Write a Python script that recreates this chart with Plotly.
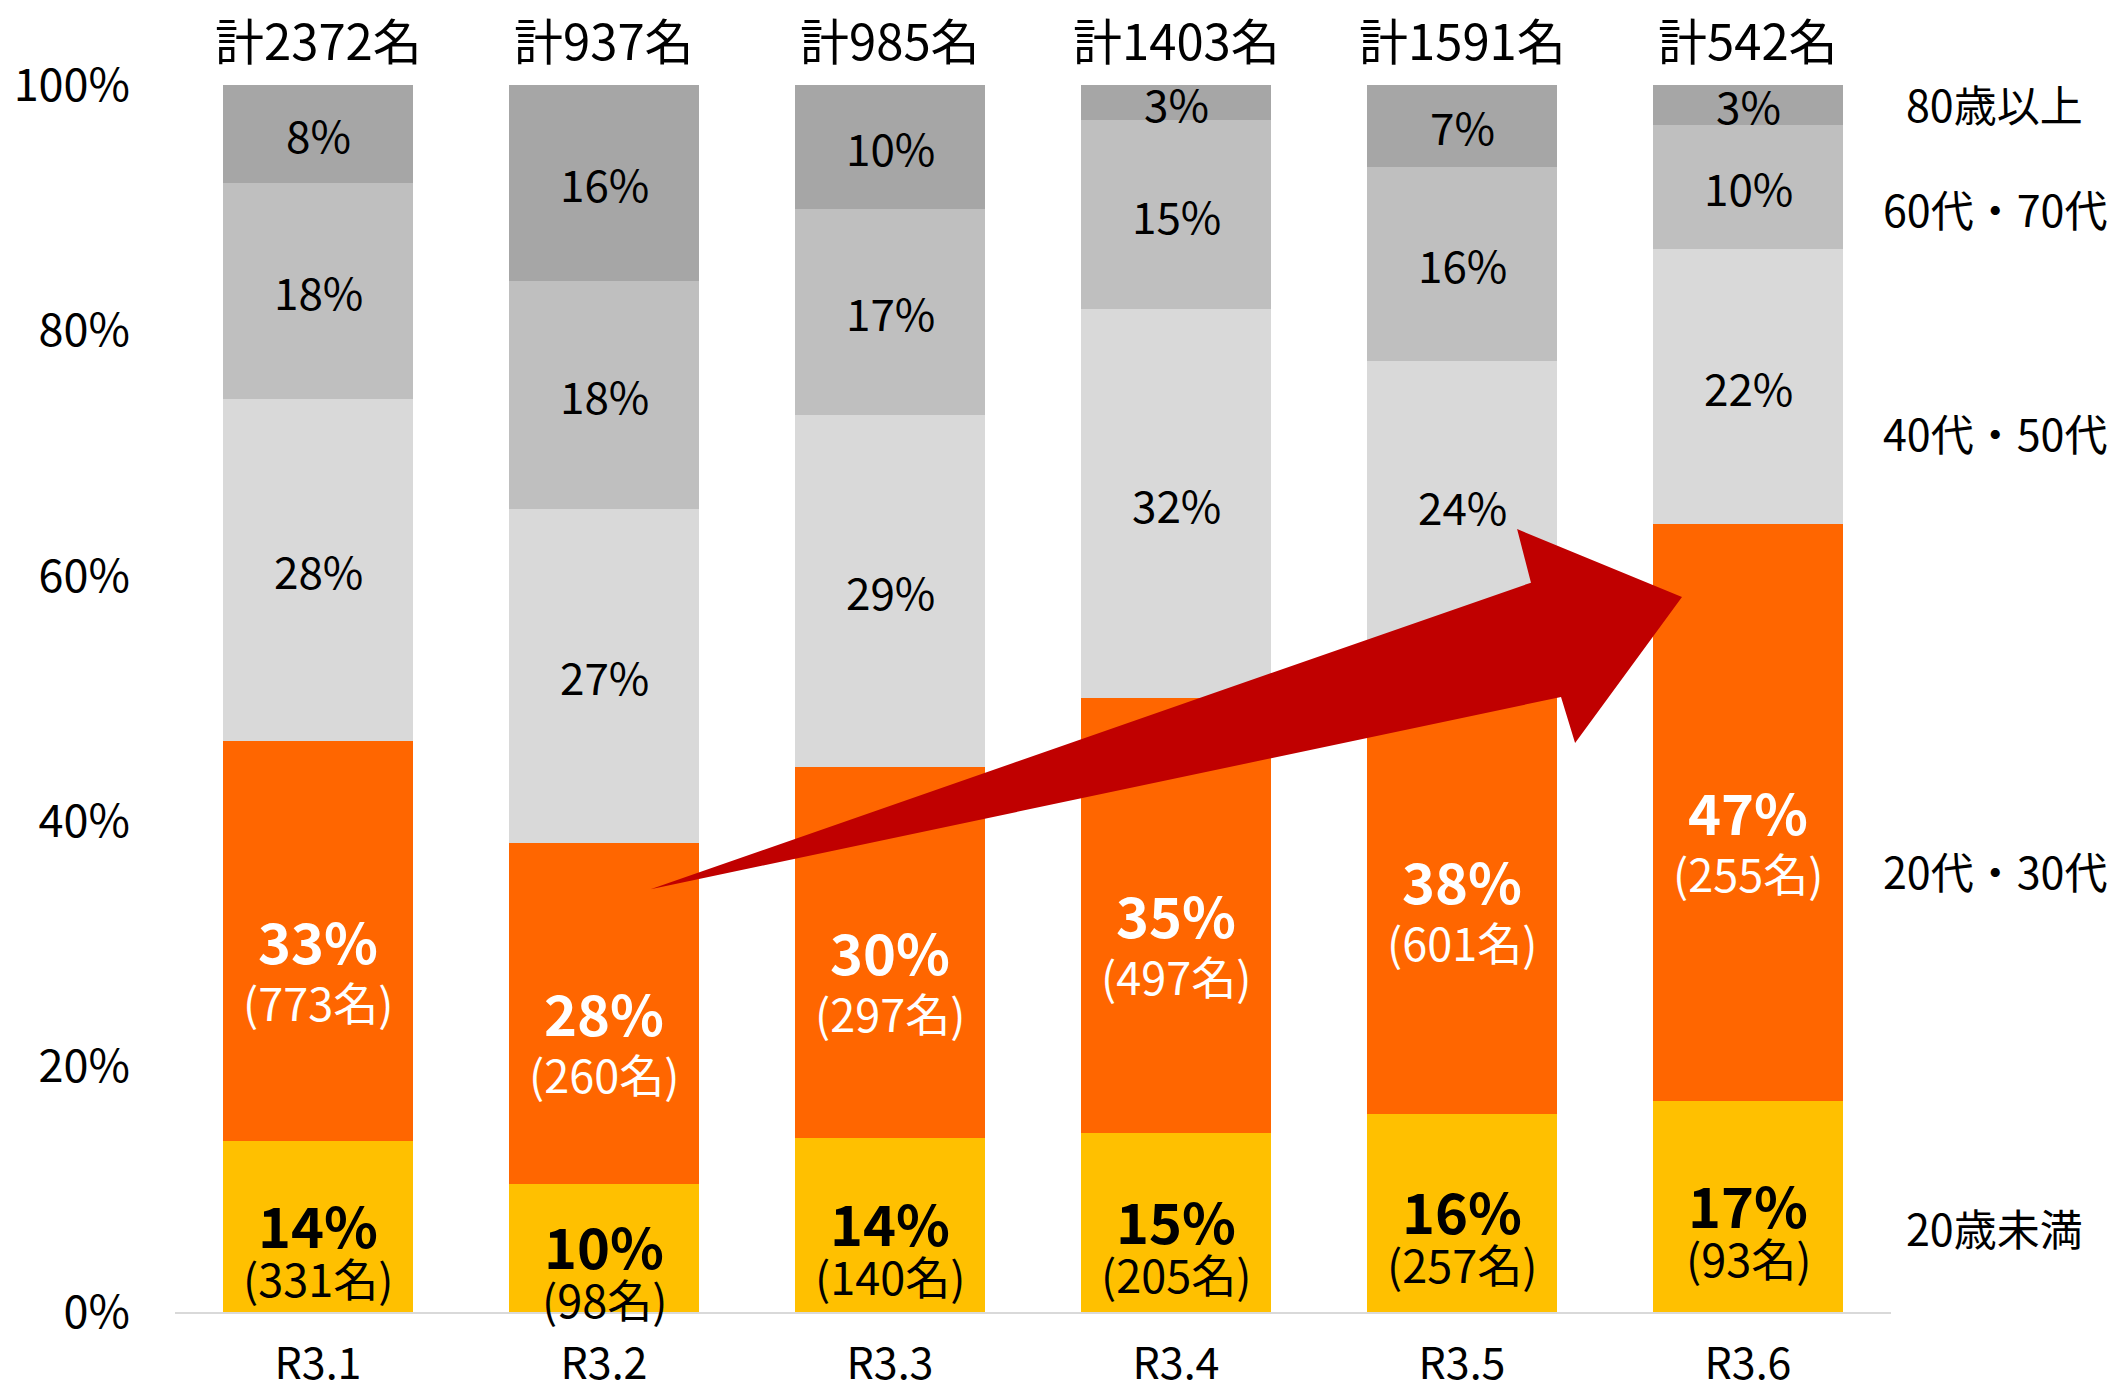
import plotly.graph_objects as go

# ---------------- data ----------------
categories = ["R3.1", "R3.2", "R3.3", "R3.4", "R3.5", "R3.6"]
totals = [2372, 937, 985, 1403, 1591, 542]

series_names = ["20歳未満", "20代・30代", "40代・50代", "60代・70代", "80歳以上"]

# segment shares (%)
under20 = [13.95, 10.46, 14.21, 14.61, 16.15, 17.16]
age2030 = [32.59, 27.75, 30.15, 35.42, 37.77, 47.05]
age4050 = [27.9, 27.25, 28.7, 31.7, 23.5, 22.4]
age6070 = [17.6, 18.6, 16.8, 15.4, 15.8, 10.1]
over80 = [8.0, 15.95, 10.1, 2.86, 6.7, 3.3]

# printed labels
under20_lbl = [14, 10, 14, 15, 16, 17]
age2030_lbl = [33, 28, 30, 35, 38, 47]
age4050_lbl = [28, 27, 29, 32, 24, 22]
age6070_lbl = [18, 18, 17, 15, 16, 10]
over80_lbl = [8, 16, 10, 3, 7, 3]
under20_n = [331, 98, 140, 205, 257, 93]
age2030_n = [773, 260, 297, 497, 601, 255]

y_ticks = [0, 20, 40, 60, 80, 100]

# ---------------- styling ----------------
FONT = "Noto Sans CJK JP"
colors = ["#FFC000", "#FF6600", "#D9D9D9", "#BFBFBF", "#A6A6A6"]
series = [under20, age2030, age4050, age6070, over80]

# normalise each bar to 100 %
sums = [sum(s[i] for s in series) for i in range(len(categories))]
norm = [[s[i] * 100.0 / sums[i] for i in range(len(categories))] for s in series]

fig = go.Figure()
for name, vals, col in zip(series_names, norm, colors):
    fig.add_trace(go.Bar(x=categories, y=vals, name=name, marker_color=col,
                         marker_line_width=0, showlegend=False, hoverinfo="skip"))

ann = []
for i, c in enumerate(categories):
    base = 0.0
    mids = []
    for s in norm:
        mids.append(base + s[i] / 2.0)
        base += s[i]
    # yellow segment
    ann.append(dict(x=c, y=mids[0], yshift=3, text=f"<b>{under20_lbl[i]}%</b>", showarrow=False,
                    font=dict(family=FONT, size=56, color="black")))
    ann.append(dict(x=c, y=mids[0], yshift=-51, text=f"({under20_n[i]}名)", showarrow=False,
                    font=dict(family=FONT, size=45, color="black")))
    # orange segment
    ann.append(dict(x=c, y=mids[1], yshift=2, text=f"<b>{age2030_lbl[i]}%</b>", showarrow=False,
                    font=dict(family=FONT, size=56, color="white")))
    ann.append(dict(x=c, y=mids[1], yshift=-60, text=f"({age2030_n[i]}名)", showarrow=False,
                    font=dict(family=FONT, size=45, color="white")))
    # gray segments
    for lbls, m in ((age4050_lbl, mids[2]), (age6070_lbl, mids[3]), (over80_lbl, mids[4])):
        ann.append(dict(x=c, y=m, text=f"{lbls[i]}%", showarrow=False,
                        font=dict(family=FONT, size=44, color="black")))
    # totals on top
    ann.append(dict(x=c, y=100, yshift=47, text=f"計{totals[i]}名", showarrow=False,
                    yanchor="middle", font=dict(family=FONT, size=49, color="black")))

# right-side series names
right_y = [6.9, 36.0, 71.7, 90.0, 98.5]
for name, yy in zip(series_names, right_y):
    ann.append(dict(xref="paper", x=1.0606, y=yy, text=name, showarrow=False,
                    xanchor="center", font=dict(family=FONT, size=43, color="black")))

# big red arrow (paper coordinates of the plot area)
pts = [(0.2771, 0.3445), (0.7902, 0.5944), (0.7821, 0.6381), (0.8782, 0.5827),
       (0.8159, 0.4637), (0.8077, 0.5012)]
path = "M " + " L ".join(f"{x},{y}" for x, y in pts) + " Z"

fig.update_layout(
    width=2116, height=1392,
    margin=dict(l=175, r=225, t=85, b=80),
    barmode="stack", bargap=0.335,
    plot_bgcolor="white", paper_bgcolor="white",
    font=dict(family=FONT, size=42, color="black"),
    annotations=ann,
    shapes=[dict(type="path", path=path, xref="paper", yref="paper",
                 fillcolor="#C00000", line=dict(width=0), layer="above")],
    xaxis=dict(showline=True, linecolor="#D9D9D9", linewidth=2, showgrid=False,
               automargin=False, ticks="", ticklabelstandoff=13,
               tickfont=dict(family=FONT, size=43)),
    yaxis=dict(range=[0, 100], tickvals=y_ticks, ticktext=[f"{v}%" for v in y_ticks],
               automargin=False, showgrid=False, zeroline=False, showline=False, ticks="",
               ticklabelstandoff=44, tickfont=dict(family=FONT, size=45)),
)

fig.write_html("out.html", config={"displayModeBar": False},
               post_script="document.body.style.margin='0';document.body.style.overflow='hidden';")
